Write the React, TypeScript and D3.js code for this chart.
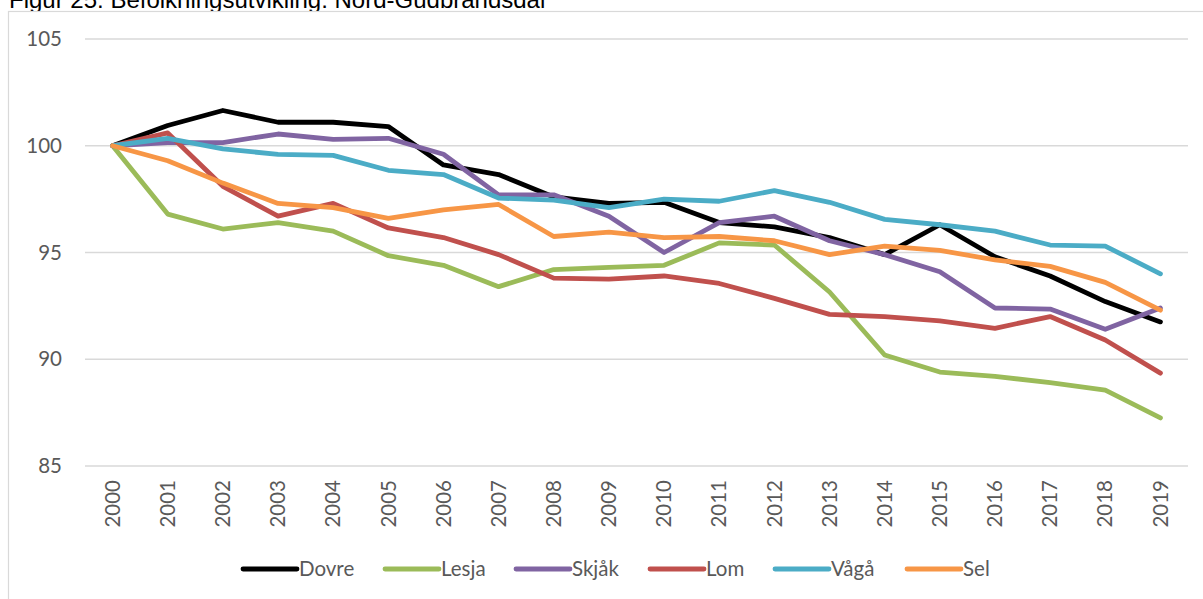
import React, { useEffect, useRef } from "react";
import * as d3 from "d3";

const years = ["2000","2001","2002","2003","2004","2005","2006","2007","2008","2009","2010","2011","2012","2013","2014","2015","2016","2017","2018","2019"];
const dovre = [100,100.95,101.65,101.1,101.1,100.9,99.1,98.65,97.6,97.3,97.35,96.4,96.2,95.7,94.9,96.3,94.8,93.9,92.7,91.75];
const lesja = [100,96.8,96.1,96.4,96.0,94.85,94.4,93.4,94.2,94.3,94.4,95.45,95.35,93.15,90.2,89.4,89.2,88.9,88.55,87.25];
const skjak = [100,100.15,100.15,100.55,100.3,100.35,99.6,97.7,97.7,96.7,95.0,96.4,96.7,95.55,94.9,94.1,92.4,92.35,91.4,92.4];
const lom = [100,100.6,98.1,96.7,97.3,96.15,95.7,94.9,93.8,93.75,93.9,93.55,92.85,92.1,92.0,91.8,91.45,92.0,90.9,89.35];
const vaga = [100,100.35,99.85,99.6,99.55,98.85,98.65,97.55,97.45,97.1,97.5,97.4,97.9,97.35,96.55,96.3,96.0,95.35,95.3,94.0];
const sel = [100,99.3,98.25,97.3,97.1,96.6,97.0,97.25,95.75,95.95,95.7,95.75,95.55,94.9,95.3,95.1,94.65,94.35,93.6,92.3];
const seriesNames = ["Dovre","Lesja","Skjåk","Lom","Vågå","Sel"];
const seriesColors = ["#000000","#9BBB59","#8064A2","#C0504D","#4BACC6","#F79646"];
const seriesValues = [dovre, lesja, skjak, lom, vaga, sel];
const yTicks = [85, 90, 95, 100, 105];
const title = "Figur 25: Befolkningsutvikling: Nord-Gudbrandsdal";

const W = 1203, H = 599;
const FONT = "Lato, 'Open Sans', sans-serif";

export default function App() {
  const ref = useRef<SVGSVGElement>(null);
  useEffect(() => {
    const svg = d3.select(ref.current);
    svg.selectAll("*").remove();
    const left = 85, right = 1188, top = 39, bottom = 466;
    const x = d3.scaleBand().domain(years).range([left, right]);
    const y = d3.scaleLinear().domain([85, 105]).range([bottom, top]);
    const cx = (d: string) => (x(d) as number) + x.bandwidth() / 2;

    svg.append("text").attr("x", 9).attr("y", 8).attr("font-family", "Arial, 'Liberation Sans', sans-serif")
      .attr("font-size", 24).attr("fill", "#000").text(title);

    // frame
    svg.append("rect").attr("x", 8.5).attr("y", 11.5).attr("width", W + 20).attr("height", H + 20)
      .attr("fill", "#fff").attr("stroke", "#d9d9d9").attr("stroke-width", 1.2);

    const g = svg.append("g");
    g.selectAll("line.grid").data(yTicks).enter().append("line")
      .attr("x1", left).attr("x2", right)
      .attr("y1", d => y(d)).attr("y2", d => y(d))
      .attr("stroke", "#d9d9d9").attr("stroke-width", 1.3);

    g.selectAll("text.ytick").data(yTicks).enter().append("text")
      .attr("x", 62).attr("y", d => y(d)).attr("dy", "0.35em").attr("text-anchor", "end")
      .attr("font-family", FONT).attr("font-size", 20.5).attr("fill", "#595959").text(d => String(d));

    g.selectAll("text.xtick").data(years).enter().append("text")
      .attr("transform", d => `translate(${cx(d)},${bottom + 14}) rotate(-90)`)
      .attr("text-anchor", "end").attr("dy", "0.35em")
      .attr("font-family", FONT).attr("font-size", 20.5).attr("fill", "#595959").text(d => d);

    const line = d3.line<number>().x((_, i) => cx(years[i])).y(d => y(d));
    seriesValues.forEach((vals, i) => {
      g.append("path").attr("d", line(vals) as string).attr("fill", "none")
        .attr("stroke", seriesColors[i]).attr("stroke-width", 4.8)
        .attr("stroke-linejoin", "round").attr("stroke-linecap", "round");
    });

    // legend
    const legendStarts = [243, 385, 516, 650, 775, 907];
    const ly = 569;
    seriesNames.forEach((name, i) => {
      const lx = legendStarts[i];
      g.append("line").attr("x1", lx).attr("x2", lx + 54).attr("y1", ly).attr("y2", ly)
        .attr("stroke", seriesColors[i]).attr("stroke-width", 4.8).attr("stroke-linecap", "round");
      g.append("text").attr("x", lx + 56).attr("y", ly).attr("dy", "0.35em")
        .attr("font-family", FONT).attr("font-size", 20.5).attr("fill", "#595959").text(name);
    });
  }, []);
  return (
    <svg ref={ref} width={W} height={H} style={{ position: "absolute", left: 0, top: 0, background: "#fff" }} />
  );
}
